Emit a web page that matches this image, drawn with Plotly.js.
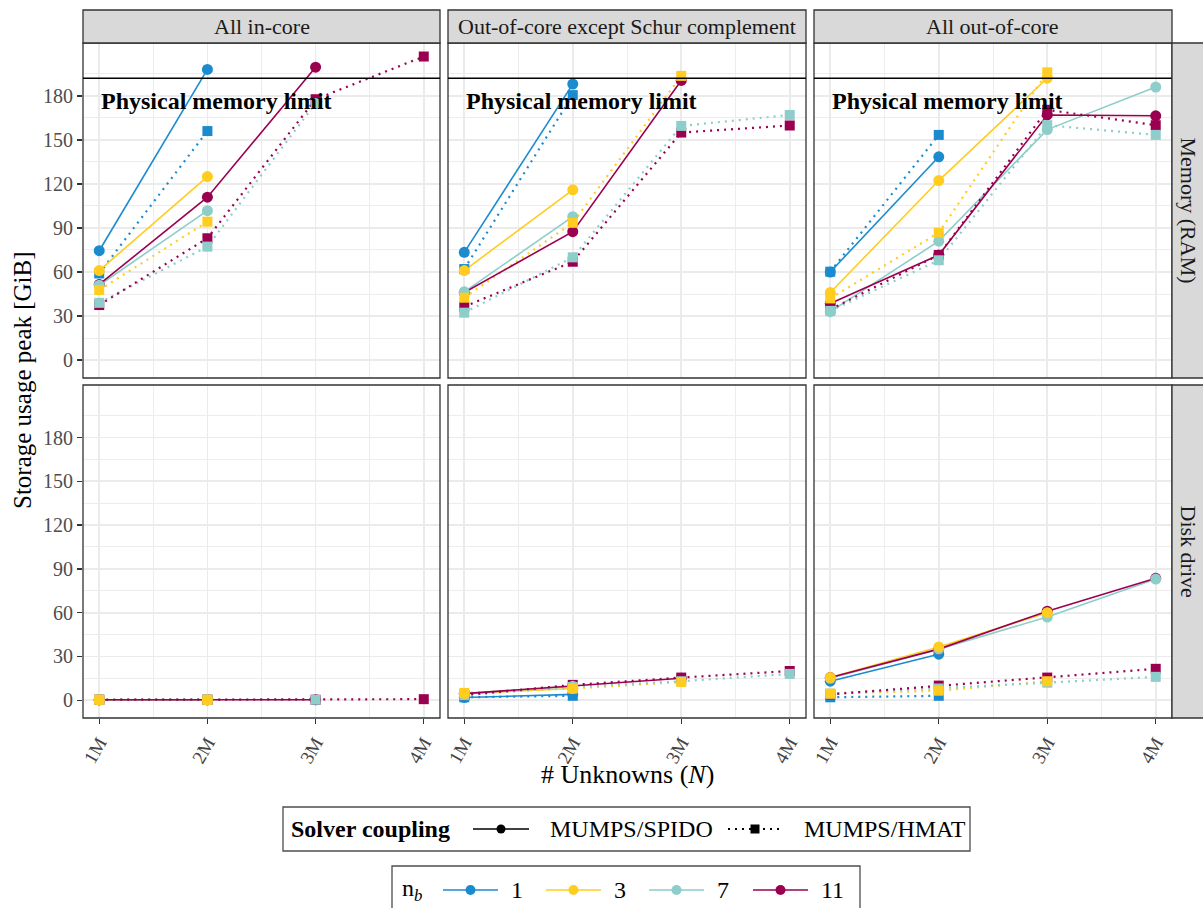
<!DOCTYPE html>
<html>
<head>
<meta charset="utf-8">
<script src="https://cdn.plot.ly/plotly-3.0.1.min.js"></script>
<style>
  html, body { margin: 0; padding: 0; background: #ffffff; }
  #chart { width: 1203px; height: 908px; }
</style>
</head>
<body>
<div id="chart"></div>
<script>
// Problem sizes on the x axis
const unknowns = [1, 2, 3, 4];
const unknownLabels = ['1M', '2M', '3M', '4M'];
const storageTicks = [0, 30, 60, 90, 120, 150, 180];

// Facets
const configurations = ['All in-core', 'Out-of-core except Schur complement', 'All out-of-core'];
const storageKinds = ['Memory (RAM)', 'Disk drive'];

// Series: number of blocks n_b and solver coupling
const nbValues = ['1', '3', '7', '11'];
const nbColors = ['#1b8bcf', '#ffcc1f', '#8dcdca', '#9b0050'];
const couplings = ['MUMPS/SPIDO', 'MUMPS/HMAT'];

// Installed RAM on the compute node [GiB]
const memoryLimit = 192;

// Storage usage peak [GiB]; one row per n_b (1, 3, 7, 11), one column per size (1M..4M)
const ramInCoreSpido = [
  [74.5, 198, null, null],
  [61, 125, null, null],
  [51, 101.8, null, null],
  [51.5, 111, 199.5, null]
];
const ramInCoreHmat = [
  [59, 156, null, null],
  [47.7, 94.3, null, null],
  [39, 77.3, 175, null],
  [37.5, 83, 177.7, 206.8]
];
const ramSchurSpido = [
  [73.4, 188, null, null],
  [61, 116, null, null],
  [46.5, 97.7, null, null],
  [46, 87.5, 190.5, null]
];
const ramSchurHmat = [
  [62, 180.5, null, null],
  [42.5, 93.5, 193.6, null],
  [32.3, 70, 159.5, 167],
  [36.4, 67, 155, 159.8]
];
const ramOutOfCoreSpido = [
  [60, 138.5, null, null],
  [46, 122.3, 192, null],
  [33, 81, 157, 186],
  [38.6, 71.6, 167, 166.4]
];
const ramOutOfCoreHmat = [
  [60.2, 153.4, null, null],
  [42, 86.8, 196, null],
  [33.5, 68, 160, 153.4],
  [34.5, 71.6, 170.5, 160]
];
const diskInCoreSpido = [
  [0.3, 0.3, null, null],
  [0.3, 0.3, null, null],
  [0.3, 0.3, null, null],
  [0.3, 0.3, 0.3, null]
];
const diskInCoreHmat = [
  [0.3, 0.3, null, null],
  [0.3, 0.3, null, null],
  [0.3, 0.3, 0.3, null],
  [0.3, 0.3, 0.3, 0.7]
];
const diskSchurSpido = [
  [1.8, 4, null, null],
  [4.5, 8, null, null],
  [4.5, 9.5, null, null],
  [4.5, 10, 15, null]
];
const diskSchurHmat = [
  [2, 3, null, null],
  [5, 8, 12.5, null],
  [3.5, 9, 13, 18],
  [3.5, 10.5, 15.5, 20]
];
const diskOutOfCoreSpido = [
  [13, 31.5, null, null],
  [15.5, 36.5, 60, null],
  [15, 35, 57, 83],
  [15.5, 35, 61, 83.5]
];
const diskOutOfCoreHmat = [
  [2, 3, null, null],
  [4.5, 6.5, 13, null],
  [4.5, 8, 12, 16],
  [4, 10, 15.5, 21.5]
];

const FONT = 'Liberation Serif, DejaVu Serif, serif';
const GRID = '#ebebeb';
const BORDER = '#333333';

// Panel grid in pixels (plot area 83..1172 x 43..718)
const plotLeft = 83, plotRight = 1172, plotTop = 43, plotBottom = 718;
const pw = plotRight - plotLeft, ph = plotBottom - plotTop;
const px2x = px => (px - plotLeft) / pw;
const px2y = py => (plotBottom - py) / ph;

const colPx = [[83, 440], [448, 806], [814, 1172]];
const rowPx = [[43, 378], [385, 718]];
const colDomains = colPx.map(c => [px2x(c[0]), px2x(c[1])]);
const rowDomains = rowPx.map(r => [px2y(r[1]), px2y(r[0])]);

const xNames = ['x', 'x2', 'x3'];
const yNames = ['y', 'y2'];

const panels = [
  { col: 0, row: 0, series: [ramInCoreSpido, ramInCoreHmat] },
  { col: 1, row: 0, series: [ramSchurSpido, ramSchurHmat] },
  { col: 2, row: 0, series: [ramOutOfCoreSpido, ramOutOfCoreHmat] },
  { col: 0, row: 1, series: [diskInCoreSpido, diskInCoreHmat] },
  { col: 1, row: 1, series: [diskSchurSpido, diskSchurHmat] },
  { col: 2, row: 1, series: [diskOutOfCoreSpido, diskOutOfCoreHmat] }
];

const lineStyles = [
  { dash: 'solid', width: 1.6, symbol: 'circle', size: 11 },
  { dash: '2px,5px', width: 2.2, symbol: 'square', size: 10 }
];

// Lines are drawn first, points on top of every line
const lineTraces = [];
const pointTraces = [];
const pointOrder = [0, 3, 2, 1];
panels.forEach(p => {
  nbValues.forEach((nb, k) => {
    couplings.forEach((cp, c) => {
      const st = lineStyles[c];
      lineTraces.push({
        type: 'scatter', mode: 'lines',
        name: cp + ' n_b=' + nb,
        x: unknowns, y: p.series[c][k],
        xaxis: xNames[p.col], yaxis: yNames[p.row],
        line: { color: nbColors[k], width: st.width, dash: st.dash },
        showlegend: false, hoverinfo: 'skip'
      });
    });
  });
  pointOrder.forEach(k => {
    couplings.forEach((cp, c) => {
      const st = lineStyles[c];
      pointTraces.push({
        type: 'scatter', mode: 'markers',
        name: cp + ' n_b=' + nbValues[k],
        x: unknowns, y: p.series[c][k],
        xaxis: xNames[p.col], yaxis: yNames[p.row],
        marker: { color: nbColors[k], size: st.size, symbol: st.symbol, line: { width: 0 } },
        showlegend: false, hoverinfo: 'skip'
      });
    });
  });
});
const traces = lineTraces.concat(pointTraces);

const yRange = [-12.2, 216];
const xRange = [0.85, 4.15];

function xAxis(i) {
  return {
    domain: colDomains[i], anchor: 'y2', range: xRange,
    tickmode: 'array', tickvals: unknowns, ticktext: unknownLabels,
    tickangle: -60, ticks: 'outside', ticklen: 5, tickwidth: 1.3, tickcolor: BORDER,
    tickfont: { family: FONT, size: 19, color: '#444444' },
    showgrid: true, gridcolor: GRID, gridwidth: 1.8,
    minor: { tick0: 0.5, dtick: 0.5, showgrid: true, gridcolor: GRID, gridwidth: 0.9, ticks: '' },
    zeroline: false, showline: false, fixedrange: true
  };
}
function yAxis(j) {
  return {
    domain: rowDomains[j], anchor: 'x', range: yRange,
    tickmode: 'array', tickvals: storageTicks,
    ticks: 'outside', ticklen: 5, tickwidth: 1.3, tickcolor: BORDER,
    tickfont: { family: FONT, size: 20, color: '#4d4d4d' },
    showgrid: true, gridcolor: GRID, gridwidth: 1.8,
    minor: { tick0: 15, dtick: 30, showgrid: true, gridcolor: GRID, gridwidth: 0.9, ticks: '' },
    zeroline: false, showline: false, fixedrange: true
  };
}

const shapes = [];
const annotations = [];

// Panel borders
for (let i = 0; i < 3; i++) {
  for (let j = 0; j < 2; j++) {
    shapes.push({
      type: 'rect', xref: xNames[i] + ' domain', yref: yNames[j] + ' domain',
      x0: 0, x1: 1, y0: 0, y1: 1, line: { color: BORDER, width: 1.3 }, layer: 'above'
    });
  }
}

// Physical memory limit in the RAM row
for (let i = 0; i < 3; i++) {
  shapes.push({
    type: 'line', xref: xNames[i] + ' domain', yref: 'y',
    x0: 0, x1: 1, y0: memoryLimit, y1: memoryLimit,
    line: { color: '#000000', width: 1.6 }, layer: 'above'
  });
  annotations.push({
    xref: xNames[i], yref: 'y', x: unknowns[0], y: memoryLimit - 15.5,
    xanchor: 'left', yanchor: 'middle', showarrow: false,
    text: '<b>Physical memory limit</b>',
    font: { family: FONT, size: 24, color: '#000000' }
  });
}

// Facet strips, top
configurations.forEach((label, i) => {
  shapes.push({
    type: 'rect', xref: 'paper', yref: 'paper',
    x0: colDomains[i][0], x1: colDomains[i][1], y0: 1, y1: px2y(10),
    fillcolor: '#d9d9d9', line: { color: BORDER, width: 1.3 }, layer: 'above'
  });
  annotations.push({
    xref: 'paper', yref: 'paper', x: (colDomains[i][0] + colDomains[i][1]) / 2, y: px2y(26.5),
    xanchor: 'center', yanchor: 'middle', showarrow: false, text: label,
    font: { family: FONT, size: 22, color: '#1a1a1a' }
  });
});

// Facet strips, right
storageKinds.forEach((label, j) => {
  shapes.push({
    type: 'rect', xref: 'paper', yref: 'paper',
    x0: 1, x1: px2x(1206), y0: rowDomains[j][0], y1: rowDomains[j][1],
    fillcolor: '#d9d9d9', line: { color: BORDER, width: 1.3 }, layer: 'above'
  });
  annotations.push({
    xref: 'paper', yref: 'paper', x: px2x(1188), y: (rowDomains[j][0] + rowDomains[j][1]) / 2,
    xanchor: 'center', yanchor: 'middle', showarrow: false, text: label, textangle: 90,
    font: { family: FONT, size: 22, color: '#1a1a1a' }
  });
});

// Axis titles
annotations.push({
  xref: 'paper', yref: 'paper', x: px2x(22), y: px2y(380),
  xanchor: 'center', yanchor: 'middle', showarrow: false, textangle: -90,
  text: 'Storage usage peak [GiB]', font: { family: FONT, size: 25, color: '#000000' }
});
annotations.push({
  xref: 'paper', yref: 'paper', x: px2x(627), y: px2y(774),
  xanchor: 'center', yanchor: 'middle', showarrow: false,
  text: '# Unknowns (<i>N</i>)', font: { family: FONT, size: 26, color: '#000000' }
});

// Legend boxes drawn in paper space
function legendBox(x0, x1, y0, y1) {
  shapes.push({
    type: 'rect', xref: 'paper', yref: 'paper',
    x0: px2x(x0), x1: px2x(x1), y0: px2y(y1), y1: px2y(y0),
    fillcolor: '#ffffff', line: { color: '#4d4d4d', width: 1.3 }, layer: 'above'
  });
}
function legendKey(x0, x1, yc, color, st, markerPx) {
  shapes.push({
    type: 'line', xref: 'paper', yref: 'paper',
    x0: px2x(x0), x1: px2x(x1), y0: px2y(yc), y1: px2y(yc),
    line: { color: color, width: st.width, dash: st.dash }, layer: 'above'
  });
  const xc = (x0 + x1) / 2, r = markerPx / 2;
  shapes.push({
    type: st.symbol === 'circle' ? 'circle' : 'rect', xref: 'paper', yref: 'paper',
    x0: px2x(xc - r), x1: px2x(xc + r), y0: px2y(yc + r), y1: px2y(yc - r),
    fillcolor: color, line: { width: 0 }, layer: 'above'
  });
}
function legendText(x, yc, text, size) {
  annotations.push({
    xref: 'paper', yref: 'paper', x: px2x(x), y: px2y(yc),
    xanchor: 'left', yanchor: 'middle', showarrow: false, text: text,
    font: { family: FONT, size: size, color: '#000000' }
  });
}

// Solver coupling legend
const couplingKeyPx = [[473, 529, 548], [728, 782, 802]];
legendBox(283, 970, 807, 851);
legendText(289, 829, '<b>Solver coupling</b>', 24);
couplings.forEach((cp, c) => {
  const k = couplingKeyPx[c];
  legendKey(k[0], k[1], 829, '#000000', lineStyles[c], 9);
  legendText(k[2], 829, cp, 24);
});

// n_b legend
const nbKeyStart = [443, 546, 649, 753];
legendBox(392, 860, 866, 912);
legendText(400, 890, 'n<sub><i>b</i></sub>', 24);
nbValues.forEach((nb, k) => {
  const x0 = nbKeyStart[k];
  legendKey(x0, x0 + 55, 890, nbColors[k], lineStyles[0], 10);
  legendText(x0 + 66, 890, nb, 24);
});

const layout = {
  width: 1203, height: 908,
  margin: { l: plotLeft, r: 1203 - plotRight, t: plotTop, b: 908 - plotBottom, pad: 0 },
  paper_bgcolor: '#ffffff', plot_bgcolor: '#ffffff',
  font: { family: FONT, color: '#000000' },
  xaxis: xAxis(0), xaxis2: xAxis(1), xaxis3: xAxis(2),
  yaxis: yAxis(0), yaxis2: yAxis(1),
  shapes: shapes,
  annotations: annotations,
  showlegend: false
};

Plotly.newPlot('chart', traces, layout, { displayModeBar: false, staticPlot: true });
</script>
</body>
</html>
